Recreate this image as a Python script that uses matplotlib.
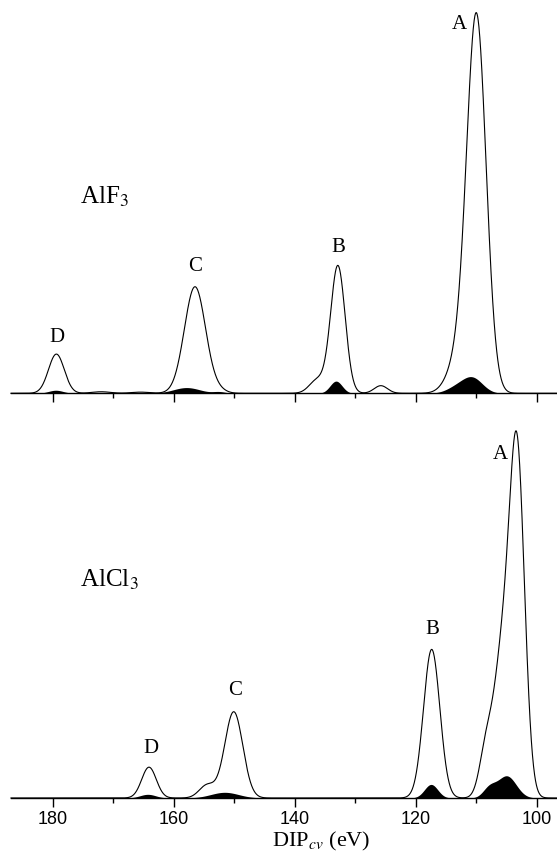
import numpy as np
import matplotlib
matplotlib.use("Agg")
import matplotlib.pyplot as plt

# ---- Data: Gaussian-broadened bands (centre eV, relative height, width eV)
# AlF3 total spectrum
alf3_centers = [179.4, 172.0, 165.5, 156.5, 152.5, 136.3, 132.9, 125.8, 113.0, 110.0]
alf3_heights = [0.103, 0.004, 0.003, 0.280, 0.006, 0.035, 0.335, 0.020, 0.080, 0.980]
alf3_widths = [1.3, 1.5, 1.5, 1.75, 1.2, 1.3, 1.2, 1.1, 1.8, 1.6]
# AlF3 satellite (filled) part
alf3_sat_centers = [179.5, 157.9, 152.5, 133.2, 113.2, 110.6]
alf3_sat_heights = [0.008, 0.015, 0.004, 0.032, 0.016, 0.038]
alf3_sat_widths = [1.2, 2.2, 1.0, 1.0, 1.7, 1.65]

# AlCl3 total spectrum
alcl3_centers = [164.1, 154.5, 150.1, 117.4, 108.4, 105.8, 103.3]
alcl3_heights = [0.084, 0.035, 0.235, 0.405, 0.130, 0.360, 0.928]
alcl3_widths = [1.2, 1.3, 1.5, 1.35, 1.1, 1.35, 1.25]
# AlCl3 satellite (filled) part
alcl3_sat_centers = [164.3, 151.6, 117.5, 107.9, 105.0]
alcl3_sat_heights = [0.010, 0.0155, 0.037, 0.026, 0.060]
alcl3_sat_widths = [1.3, 2.3, 1.1, 1.05, 1.55]

peak_labels = ["A", "B", "C", "D"]
alf3_label_pos = [(112.9, 0.969), (132.9, 0.382), (156.5, 0.332), (179.3, 0.146)]
alcl3_label_pos = [(106.1, 0.935), (117.3, 0.460), (149.9, 0.292), (163.8, 0.134)]

x_ticks_major = [180, 160, 140, 120, 100]
x_ticks_minor = [170, 150, 130, 110]
x_limits = (186.9, 96.7)


def spectrum(x, centers, heights, widths):
    y = np.zeros_like(x)
    for c, h, w in zip(centers, heights, widths):
        y += h * np.exp(-0.5 * ((x - c) / w) ** 2)
    return y


serif = ["Liberation Serif", "DejaVu Serif"]
sans = ["Liberation Sans", "DejaVu Sans"]

fig = plt.figure(figsize=(5.57, 8.60), dpi=100)
ax_top = fig.add_axes([0.0197, 0.5427, 0.9803, 0.4425])
ax_bot = fig.add_axes([0.0197, 0.0721, 0.9803, 0.4267])

x = np.linspace(x_limits[0], x_limits[1], 3000)

panels = [
    (ax_top, alf3_centers, alf3_heights, alf3_widths,
     alf3_sat_centers, alf3_sat_heights, alf3_sat_widths, alf3_label_pos,
     r"AlF$_3$", (80 / 557, 1 - 197 / 860)),
    (ax_bot, alcl3_centers, alcl3_heights, alcl3_widths,
     alcl3_sat_centers, alcl3_sat_heights, alcl3_sat_widths, alcl3_label_pos,
     r"AlCl$_3$", (80 / 557, 1 - 580 / 860)),
]

for (ax, c, h, w, sc, sh, sw, lpos, name, npos) in panels:
    y_tot = spectrum(x, c, h, w)
    y_sat = spectrum(x, sc, sh, sw)
    ax.plot(x, y_tot, color="black", lw=0.8, clip_on=False)
    ax.fill_between(x, 0, y_sat, color="black", lw=0)
    ax.set_xlim(*x_limits)
    ax.set_ylim(0, 1.0)
    for s in ["left", "right", "top"]:
        ax.spines[s].set_visible(False)
    ax.spines["bottom"].set_linewidth(1.0)
    ax.set_yticks([])
    ax.set_xticks(x_ticks_major)
    ax.set_xticks(x_ticks_minor, minor=True)
    ax.tick_params(axis="x", which="major", direction="out", length=6.8, width=1.0)
    ax.tick_params(axis="x", which="minor", direction="out", length=3.8, width=1.0)
    ax.patch.set_visible(False)
    for lab, (lx, ly) in zip(peak_labels, lpos):
        ax.text(lx, ly, lab, family=serif, fontsize=15, ha="center", va="center")
    fig.text(npos[0], npos[1], name, family=serif, fontsize=18, ha="left", va="center",
             math_fontfamily="stix")

ax_top.tick_params(axis="x", labelbottom=False)
ax_bot.set_xticklabels([str(t) for t in x_ticks_major], family=sans, fontsize=13)
ax_bot.tick_params(axis="x", pad=2.5)

fig.text(321 / 557, 1 - 841 / 860, r"DIP$_{cv}$ (eV)", family=serif, fontsize=16,
         ha="center", va="center", math_fontfamily="stix")

fig.savefig("out.png", dpi=100)
